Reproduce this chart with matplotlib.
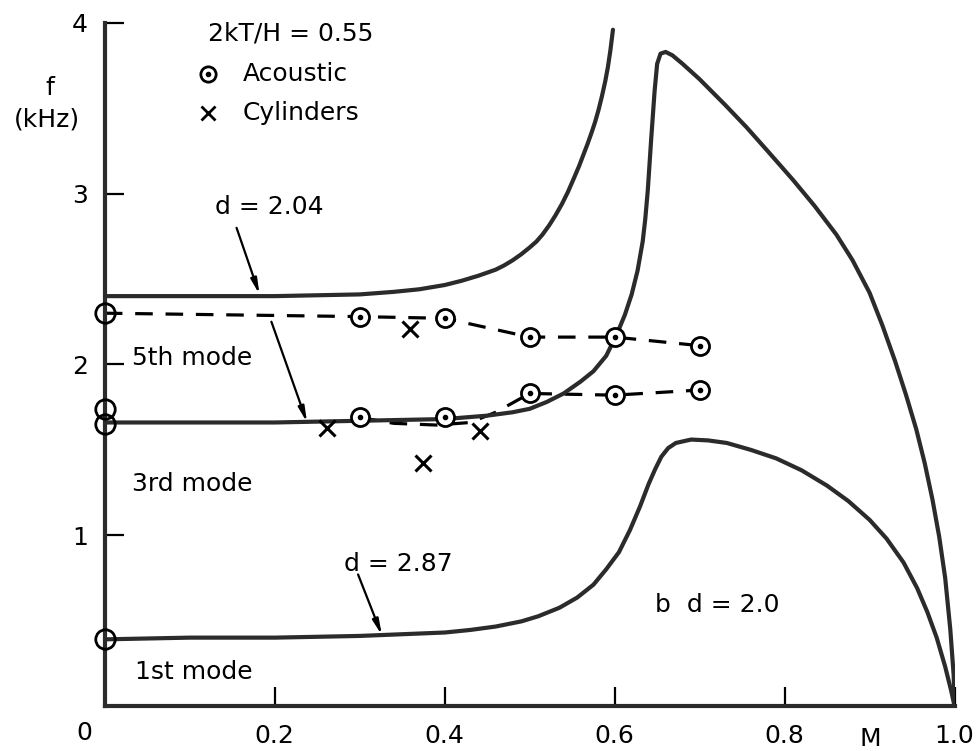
# f-M diagram, acoustic resonance modes
import matplotlib
matplotlib.use('Agg')
import matplotlib.pyplot as plt

plt.rcParams['font.family'] = ['DejaVu Sans']

# upper curve, d = 2.04
upper_M = [0, 0.1, 0.2, 0.25, 0.30, 0.34, 0.37, 0.40, 0.42, 0.44, 0.46, 0.47, 0.48, 0.49, 0.50,
           0.508, 0.515, 0.523, 0.53, 0.538, 0.545, 0.552, 0.558, 0.563, 0.568, 0.573,
           0.577, 0.581, 0.585, 0.589, 0.592, 0.595, 0.598]
upper_f = [2.40, 2.40, 2.40, 2.405, 2.41, 2.425, 2.44, 2.465, 2.49, 2.52, 2.555, 2.58, 2.61, 2.645, 2.685,
           2.72, 2.76, 2.815, 2.87, 2.94, 3.01, 3.09, 3.16, 3.225, 3.29, 3.36,
           3.42, 3.49, 3.57, 3.66, 3.74, 3.84, 3.96]

# 3rd mode curve with the big loop down to M = 1
mode3_M = [0, 0.1, 0.2, 0.3, 0.35, 0.4, 0.45, 0.48, 0.5, 0.52, 0.54, 0.56, 0.575, 0.59, 0.602,
           0.612, 0.62, 0.627, 0.633, 0.636, 0.639, 0.643, 0.647, 0.650, 0.654, 0.660, 0.668,
           0.68, 0.70, 0.73, 0.755, 0.78, 0.81, 0.835, 0.861, 0.88, 0.90, 0.915, 0.93,
           0.943, 0.955, 0.965, 0.974, 0.982, 0.989, 0.995, 0.999, 1.0]
mode3_f = [1.66, 1.66, 1.66, 1.67, 1.675, 1.68, 1.70, 1.72, 1.74, 1.78, 1.83, 1.90, 1.96, 2.05, 2.17,
           2.29, 2.41, 2.55, 2.72, 2.85, 3.02, 3.32, 3.60, 3.76, 3.82, 3.83, 3.81,
           3.76, 3.67, 3.52, 3.39, 3.25, 3.08, 2.93, 2.76, 2.61, 2.42, 2.23, 2.02,
           1.82, 1.62, 1.42, 1.21, 0.99, 0.75, 0.45, 0.18, 0.0]

# 1st mode curve, d = 2.87
mode1_M = [0, 0.1, 0.2, 0.3, 0.35, 0.40, 0.43, 0.46, 0.49, 0.51, 0.535, 0.556, 0.575, 0.59,
           0.605, 0.618, 0.63, 0.64, 0.648, 0.655, 0.663, 0.672, 0.69, 0.71, 0.732, 0.76,
           0.79, 0.82, 0.85, 0.875, 0.90, 0.92, 0.94, 0.956, 0.968, 0.979, 0.989, 0.996, 1.0]
mode1_f = [0.39, 0.40, 0.40, 0.41, 0.42, 0.43, 0.445, 0.465, 0.495, 0.525, 0.575, 0.635, 0.71, 0.80,
           0.90, 1.03, 1.17, 1.30, 1.39, 1.46, 1.51, 1.54, 1.56, 1.555, 1.54, 1.50,
           1.45, 1.38, 1.29, 1.20, 1.09, 0.98, 0.84, 0.69, 0.55, 0.40, 0.23, 0.09, 0.0]

# dashed lines through the measurements
dash5_M = [0, 0.3, 0.4, 0.5, 0.6, 0.7]
dash5_f = [2.30, 2.28, 2.27, 2.16, 2.16, 2.11]
dash3_M = [0.3, 0.34, 0.39, 0.43, 0.46, 0.5, 0.6, 0.7]
dash3_f = [1.69, 1.655, 1.645, 1.66, 1.72, 1.83, 1.82, 1.85]

# acoustic measurements (circles)
acoustic_M = [0.3, 0.4, 0.5, 0.6, 0.7, 0.3, 0.4, 0.5, 0.6, 0.7]
acoustic_f = [2.28, 2.27, 2.16, 2.16, 2.11, 1.69, 1.69, 1.83, 1.82, 1.85]
axis_M = [0, 0, 0, 0]
axis_f = [2.30, 1.74, 1.65, 0.39]

# cylinder measurements (crosses)
cyl_M = [0.359, 0.261, 0.441, 0.374]
cyl_f = [2.21, 1.63, 1.61, 1.42]

line_c = '#2b2b2b'
fs = 18

fig = plt.figure(figsize=(9.8, 7.51), dpi=100)
ax = fig.add_axes([0.107, 0.06, 0.867, 0.9095])

ax.plot(upper_M, upper_f, color=line_c, lw=3, solid_capstyle='round', solid_joinstyle='round', zorder=3)
ax.plot(mode3_M, mode3_f, color=line_c, lw=3, solid_joinstyle='round', zorder=3)
ax.plot(mode1_M, mode1_f, color=line_c, lw=3, solid_joinstyle='round', zorder=3)

ax.plot(dash5_M, dash5_f, color='black', lw=2.3, dashes=(5.5, 4), zorder=2)
ax.plot(dash3_M, dash3_f, color='black', lw=2.3, dashes=(5.5, 4), zorder=2)

ax.plot(acoustic_M, acoustic_f, 'o', ms=13, mfc='white', mec='black', mew=2, zorder=4)
ax.plot(acoustic_M, acoustic_f, 'o', ms=3, color='black', zorder=5)
ax.plot(axis_M, axis_f, 'o', ms=14, mfc='none', mec='black', mew=2, zorder=4, clip_on=False)
ax.plot(cyl_M, cyl_f, 'x', ms=11, mec='black', mew=2.2, zorder=4)

# arrows
arrow = dict(arrowstyle='-|>,head_length=0.9,head_width=0.18', color='black', lw=1.6,
             shrinkA=0, shrinkB=0)
ax.annotate('', xy=(0.182, 2.41), xytext=(0.155, 2.80), arrowprops=arrow)
ax.annotate('', xy=(0.238, 1.66), xytext=(0.196, 2.25), arrowprops=arrow)
ax.annotate('', xy=(0.326, 0.415), xytext=(0.298, 0.77), arrowprops=arrow)
ax.text(0.194, 2.92, 'd = 2.04', fontsize=fs, ha='center', va='center')
ax.text(0.282, 0.83, 'd = 2.87', fontsize=fs, ha='left', va='center')

ax.text(0.032, 2.04, '5th mode', fontsize=fs, va='center')
ax.text(0.032, 1.30, '3rd mode', fontsize=fs, va='center')
ax.text(0.035, 0.20, '1st mode', fontsize=fs, va='center')
ax.text(0.648, 0.59, 'b  d = 2.0', fontsize=fs, va='center')

# legend block
ax.text(0.121, 3.94, '2kT/H = 0.55', fontsize=fs, va='center')
ax.plot([0.121], [3.70], 'o', ms=11, mfc='white', mec='black', mew=2)
ax.plot([0.121], [3.70], 'o', ms=3, color='black')
ax.text(0.162, 3.70, 'Acoustic', fontsize=fs, va='center')
ax.plot([0.121], [3.47], 'x', ms=10, mec='black', mew=2)
ax.text(0.162, 3.47, 'Cylinders', fontsize=fs, va='center')

ax.set_xlim(0, 1.0)
ax.set_ylim(0, 4)
for s in ['top', 'right']:
    ax.spines[s].set_visible(False)
for s in ['left', 'bottom']:
    ax.spines[s].set_linewidth(3)
    ax.spines[s].set_color(line_c)

ax.set_xticks([0.2, 0.4, 0.6, 0.8, 1.0])
ax.set_xticklabels(['0.2', '0.4', '0.6', '0.8', '1.0'])
ax.set_yticks([1, 2, 3, 4])
ax.set_yticklabels(['1', '2', '3', '4'])
ax.tick_params(direction='in', length=14, width=1.6, labelsize=fs)
ax.tick_params(axis='x', pad=13)
ax.tick_params(axis='y', pad=12)

fig.text(84 / 980, 1 - 733 / 751, '0', fontsize=fs, ha='center', va='center')
fig.text(870 / 980, 1 - 739 / 751, 'M', fontsize=fs, ha='center', va='center')
fig.text(50 / 980, 1 - 88 / 751, 'f', fontsize=fs, ha='center', va='center')
fig.text(47 / 980, 1 - 120 / 751, '(kHz)', fontsize=fs, ha='center', va='center')

fig.savefig('out.png', dpi=100)
